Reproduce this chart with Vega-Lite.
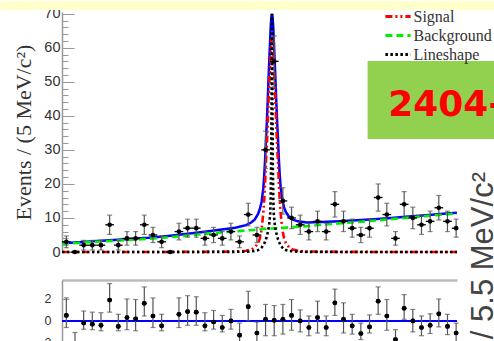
{
"$schema":"https://vega.github.io/schema/vega-lite/v6.json",
"padding":0,
"background":"white",
"config":{"view":{"stroke":null},"font":"Liberation Sans","axis":{"grid":false}},
"datasets":{
"pts":[
{"m":3.7525,"n":3,"lo":1.27,"hi":4.73,"ml":3.75,"mh":3.755},
{"m":3.7575,"n":0,"lo":0,"hi":0,"ml":3.755,"mh":3.76},
{"m":3.7625,"n":2,"lo":0.59,"hi":3.41,"ml":3.76,"mh":3.765},
{"m":3.7675,"n":2,"lo":0.59,"hi":3.41,"ml":3.765,"mh":3.77},
{"m":3.7725,"n":2,"lo":0.59,"hi":3.41,"ml":3.77,"mh":3.775},
{"m":3.7775,"n":8,"lo":5.17,"hi":10.83,"ml":3.775,"mh":3.78},
{"m":3.7825,"n":2,"lo":0.59,"hi":3.41,"ml":3.78,"mh":3.785},
{"m":3.7875,"n":4,"lo":2,"hi":6,"ml":3.785,"mh":3.79},
{"m":3.7925,"n":4,"lo":2,"hi":6,"ml":3.79,"mh":3.795},
{"m":3.7975,"n":8,"lo":5.17,"hi":10.83,"ml":3.795,"mh":3.8},
{"m":3.8025,"n":5,"lo":2.76,"hi":7.24,"ml":3.8,"mh":3.805},
{"m":3.8075,"n":3,"lo":1.27,"hi":4.73,"ml":3.805,"mh":3.81},
{"m":3.8125,"n":0,"lo":0,"hi":0,"ml":3.81,"mh":3.815},
{"m":3.8175,"n":6,"lo":3.55,"hi":8.45,"ml":3.815,"mh":3.82},
{"m":3.8225,"n":7,"lo":4.35,"hi":9.65,"ml":3.82,"mh":3.825},
{"m":3.8275,"n":7,"lo":4.35,"hi":9.65,"ml":3.825,"mh":3.83},
{"m":3.8325,"n":4,"lo":2,"hi":6,"ml":3.83,"mh":3.835},
{"m":3.8375,"n":5,"lo":2.76,"hi":7.24,"ml":3.835,"mh":3.84},
{"m":3.8425,"n":4,"lo":2,"hi":6,"ml":3.84,"mh":3.845},
{"m":3.8475,"n":6,"lo":3.55,"hi":8.45,"ml":3.845,"mh":3.85},
{"m":3.8525,"n":3,"lo":1.27,"hi":4.73,"ml":3.85,"mh":3.855},
{"m":3.8575,"n":11,"lo":7.68,"hi":14.32,"ml":3.855,"mh":3.86},
{"m":3.8625,"n":5,"lo":2.76,"hi":7.24,"ml":3.86,"mh":3.865},
{"m":3.8675,"n":30,"lo":24.52,"hi":35.48,"ml":3.865,"mh":3.87},
{"m":3.8725,"n":56,"lo":48.52,"hi":63.48,"ml":3.87,"mh":3.875},
{"m":3.8775,"n":15,"lo":11.13,"hi":18.87,"ml":3.875,"mh":3.88},
{"m":3.8825,"n":10,"lo":6.84,"hi":13.16,"ml":3.88,"mh":3.885},
{"m":3.8875,"n":8,"lo":5.17,"hi":10.83,"ml":3.885,"mh":3.89},
{"m":3.8925,"n":6,"lo":3.55,"hi":8.45,"ml":3.89,"mh":3.895},
{"m":3.8975,"n":9,"lo":6,"hi":12,"ml":3.895,"mh":3.9},
{"m":3.9025,"n":6,"lo":3.55,"hi":8.45,"ml":3.9,"mh":3.905},
{"m":3.9075,"n":14,"lo":10.26,"hi":17.74,"ml":3.905,"mh":3.91},
{"m":3.9125,"n":9,"lo":6,"hi":12,"ml":3.91,"mh":3.915},
{"m":3.9175,"n":7,"lo":4.35,"hi":9.65,"ml":3.915,"mh":3.92},
{"m":3.9225,"n":5,"lo":2.76,"hi":7.24,"ml":3.92,"mh":3.925},
{"m":3.9275,"n":7,"lo":4.35,"hi":9.65,"ml":3.925,"mh":3.93},
{"m":3.9325,"n":16,"lo":12,"hi":20,"ml":3.93,"mh":3.935},
{"m":3.9375,"n":11,"lo":7.68,"hi":14.32,"ml":3.935,"mh":3.94},
{"m":3.9425,"n":4,"lo":2,"hi":6,"ml":3.94,"mh":3.945},
{"m":3.9475,"n":14,"lo":10.26,"hi":17.74,"ml":3.945,"mh":3.95},
{"m":3.9525,"n":10,"lo":6.84,"hi":13.16,"ml":3.95,"mh":3.955},
{"m":3.9575,"n":8,"lo":5.17,"hi":10.83,"ml":3.955,"mh":3.96},
{"m":3.9625,"n":9,"lo":6,"hi":12,"ml":3.96,"mh":3.965},
{"m":3.9675,"n":13,"lo":9.39,"hi":16.61,"ml":3.965,"mh":3.97},
{"m":3.9725,"n":9,"lo":6,"hi":12,"ml":3.97,"mh":3.975},
{"m":3.9775,"n":7,"lo":4.35,"hi":9.65,"ml":3.975,"mh":3.978}
],
"pull":[
{"m":3.7525,"p":0.5,"lo":-0.6,"hi":2.1},
{"m":3.7575,"p":-2.3,"lo":-3.5,"hi":-1.06},
{"m":3.7625,"p":-0.2,"lo":-0.76,"hi":0.9},
{"m":3.7675,"p":-0.3,"lo":-0.8,"hi":0.8},
{"m":3.7725,"p":-0.4,"lo":-0.9,"hi":0.75},
{"m":3.7775,"p":1.9,"lo":0.8,"hi":3.4},
{"m":3.7825,"p":-0.5,"lo":-0.9,"hi":0.6},
{"m":3.7875,"p":0.3,"lo":-0.8,"hi":2.0},
{"m":3.7925,"p":0.2,"lo":-0.9,"hi":1.95},
{"m":3.7975,"p":1.6,"lo":0.45,"hi":3.1},
{"m":3.8025,"p":0.45,"lo":-0.6,"hi":2.1},
{"m":3.8075,"p":-0.45,"lo":-0.9,"hi":0.6},
{"m":3.8125,"p":-2.9,"lo":-3.6,"hi":-2.2},
{"m":3.8175,"p":0.6,"lo":-0.6,"hi":2.1},
{"m":3.8225,"p":0.85,"lo":-0.4,"hi":2.3},
{"m":3.8275,"p":0.8,"lo":-0.4,"hi":2.2},
{"m":3.8325,"p":-0.45,"lo":-0.9,"hi":0.75},
{"m":3.8375,"p":-0.1,"lo":-0.75,"hi":0.95},
{"m":3.8425,"p":-0.6,"lo":-1.0,"hi":0.5},
{"m":3.8475,"p":0,"lo":-0.75,"hi":1.05},
{"m":3.8525,"p":-1.3,"lo":-2.3,"hi":-0.2},
{"m":3.8575,"p":1.3,"lo":0,"hi":2.7},
{"m":3.8625,"p":-1.1,"lo":-2.1,"hi":-0.1},
{"m":3.8675,"p":0.15,"lo":-1.35,"hi":1.5},
{"m":3.8725,"p":0.05,"lo":-1.35,"hi":1.4},
{"m":3.8775,"p":0.15,"lo":-1.2,"hi":1.5},
{"m":3.8825,"p":0.5,"lo":-0.85,"hi":1.95},
{"m":3.8875,"p":0,"lo":-1.0,"hi":1.0},
{"m":3.8925,"p":-0.6,"lo":-1.35,"hi":0.45},
{"m":3.8975,"p":0.3,"lo":-1.1,"hi":1.8},
{"m":3.9025,"p":-0.6,"lo":-1.35,"hi":0.45},
{"m":3.9075,"p":1.65,"lo":0.5,"hi":2.9},
{"m":3.9125,"p":0.15,"lo":-1.1,"hi":1.65},
{"m":3.9175,"p":-0.45,"lo":-1.2,"hi":0.6},
{"m":3.9225,"p":-1.15,"lo":-1.7,"hi":-0.2},
{"m":3.9275,"p":-0.55,"lo":-1.1,"hi":0.55},
{"m":3.9325,"p":1.8,"lo":0.6,"hi":3.1},
{"m":3.9375,"p":0.45,"lo":-0.85,"hi":1.95},
{"m":3.9425,"p":-1.7,"lo":-2.5,"hi":-0.8},
{"m":3.9475,"p":1.15,"lo":0.15,"hi":2.4},
{"m":3.9525,"p":0,"lo":-1.0,"hi":1.05},
{"m":3.9575,"p":-0.6,"lo":-1.35,"hi":0.45},
{"m":3.9625,"p":-0.4,"lo":-1.15,"hi":0.65},
{"m":3.9675,"p":0.65,"lo":-0.55,"hi":2.0},
{"m":3.9725,"p":-0.5,"lo":-1.25,"hi":0.6},
{"m":3.9775,"p":-1.1,"lo":-2.0,"hi":-0.2}
],
"curves":[
{"m":3.75,"Total":2.58,"Signal":0.01,"Background":2.4,"Lineshape":0.01},
{"m":3.76,"Total":2.9,"Signal":0.01,"Background":2.7,"Lineshape":0.01},
{"m":3.77,"Total":3.22,"Signal":0.01,"Background":3.0,"Lineshape":0.01},
{"m":3.78,"Total":3.55,"Signal":0.01,"Background":3.3,"Lineshape":0.01},
{"m":3.79,"Total":3.89,"Signal":0.01,"Background":3.6,"Lineshape":0.01},
{"m":3.80,"Total":4.19,"Signal":0.02,"Background":3.85,"Lineshape":0.01},
{"m":3.81,"Total":4.65,"Signal":0.02,"Background":4.25,"Lineshape":0.01},
{"m":3.82,"Total":5.18,"Signal":0.03,"Background":4.7,"Lineshape":0.01},
{"m":3.83,"Total":5.78,"Signal":0.04,"Background":5.2,"Lineshape":0.02},
{"m":3.84,"Total":6.45,"Signal":0.06,"Background":5.7,"Lineshape":0.03},
{"m":3.85,"Total":7.15,"Signal":0.14,"Background":6.1,"Lineshape":0.05},
{"m":3.8562,"Total":7.9,"Signal":0.35,"Background":6.3,"Lineshape":0.1},
{"m":3.8592,"Total":8.65,"Signal":0.7,"Background":6.45,"Lineshape":0.2},
{"m":3.8612,"Total":9.5,"Signal":1.3,"Background":6.5,"Lineshape":0.3},
{"m":3.8632,"Total":11.2,"Signal":2.6,"Background":6.6,"Lineshape":0.55},
{"m":3.8642,"Total":12.65,"Signal":4.0,"Background":6.65,"Lineshape":0.8},
{"m":3.8652,"Total":14.7,"Signal":6.5,"Background":6.7,"Lineshape":1.3},
{"m":3.8662,"Total":18.75,"Signal":11.5,"Background":6.75,"Lineshape":2.0},
{"m":3.8667,"Total":22.3,"Signal":15,"Background":6.8,"Lineshape":2.5},
{"m":3.8672,"Total":26.8,"Signal":20,"Background":6.8,"Lineshape":3.0},
{"m":3.8677,"Total":32.8,"Signal":26,"Background":6.8,"Lineshape":3.7},
{"m":3.8682,"Total":37.85,"Signal":31,"Background":6.85,"Lineshape":4.5},
{"m":3.8687,"Total":43.85,"Signal":37,"Background":6.85,"Lineshape":5.6},
{"m":3.8692,"Total":50.85,"Signal":44,"Background":6.85,"Lineshape":6.8},
{"m":3.8697,"Total":56.9,"Signal":50,"Background":6.9,"Lineshape":8.5},
{"m":3.8702,"Total":62.9,"Signal":56,"Background":6.9,"Lineshape":11.5},
{"m":3.87045,"Total":65.9,"Signal":59,"Background":6.9,"Lineshape":16},
{"m":3.8707,"Total":67.9,"Signal":61,"Background":6.9,"Lineshape":25},
{"m":3.87095,"Total":69.4,"Signal":62.5,"Background":6.9,"Lineshape":45},
{"m":3.8712,"Total":69.9,"Signal":63,"Background":6.9,"Lineshape":70},
{"m":3.87145,"Total":69.4,"Signal":62.5,"Background":6.9,"Lineshape":45},
{"m":3.8717,"Total":67.9,"Signal":61,"Background":6.9,"Lineshape":25},
{"m":3.87195,"Total":65.9,"Signal":59,"Background":6.9,"Lineshape":16},
{"m":3.8722,"Total":62.95,"Signal":56,"Background":6.95,"Lineshape":11.5},
{"m":3.8727,"Total":56.95,"Signal":50,"Background":6.95,"Lineshape":8.5},
{"m":3.8732,"Total":50.95,"Signal":44,"Background":6.95,"Lineshape":6.8},
{"m":3.8737,"Total":43.95,"Signal":37,"Background":6.95,"Lineshape":5.6},
{"m":3.8742,"Total":38.0,"Signal":31,"Background":7.0,"Lineshape":4.5},
{"m":3.8747,"Total":33.0,"Signal":26,"Background":7.0,"Lineshape":3.7},
{"m":3.8752,"Total":27.0,"Signal":20,"Background":7.0,"Lineshape":3.0},
{"m":3.8757,"Total":22.5,"Signal":15,"Background":7.0,"Lineshape":2.5},
{"m":3.8762,"Total":19.05,"Signal":11.5,"Background":7.05,"Lineshape":2.0},
{"m":3.8772,"Total":15.1,"Signal":6.5,"Background":7.1,"Lineshape":1.3},
{"m":3.8782,"Total":13.1,"Signal":4.0,"Background":7.1,"Lineshape":0.8},
{"m":3.8792,"Total":11.75,"Signal":2.6,"Background":7.15,"Lineshape":0.55},
{"m":3.8812,"Total":10.2,"Signal":1.3,"Background":7.2,"Lineshape":0.3},
{"m":3.8832,"Total":9.5,"Signal":0.7,"Background":7.3,"Lineshape":0.2},
{"m":3.8862,"Total":9.0,"Signal":0.35,"Background":7.4,"Lineshape":0.1},
{"m":3.8912,"Total":8.7,"Signal":0.15,"Background":7.6,"Lineshape":0.05},
{"m":3.90,"Total":8.8,"Signal":0.07,"Background":8.0,"Lineshape":0.03},
{"m":3.91,"Total":9.0,"Signal":0.04,"Background":8.4,"Lineshape":0.02},
{"m":3.92,"Total":9.3,"Signal":0.03,"Background":8.8,"Lineshape":0.02},
{"m":3.93,"Total":9.62,"Signal":0.02,"Background":9.2,"Lineshape":0.01},
{"m":3.94,"Total":10.0,"Signal":0.02,"Background":9.65,"Lineshape":0.01},
{"m":3.95,"Total":10.4,"Signal":0.01,"Background":10.1,"Lineshape":0.01},
{"m":3.96,"Total":10.81,"Signal":0.01,"Background":10.55,"Lineshape":0.01},
{"m":3.97,"Total":11.23,"Signal":0.01,"Background":11.0,"Lineshape":0.01},
{"m":3.978,"Total":11.56,"Signal":0.01,"Background":11.35,"Lineshape":0.01}
]
},
"spacing":28,
"bounds":"flush",
"resolve":{"legend":{"color":"independent","strokeDash":"independent"}},
"vconcat":[
{
"width":395,"height":240,
"resolve":{"axis":{"y":"independent"}},
"layer":[
{"data":{"values":[{}]},"mark":{"type":"rect","color":"#FFFFCC"},
 "encoding":{"x":{"datum":3.7145,"type":"quantitative","scale":{"domain":[3.75,3.978],"nice":false,"zero":false},"axis":null},"x2":{"datum":4.0},
 "y":{"datum":71.1,"type":"quantitative","scale":{"domain":[0,70.5],"nice":false,"zero":false},"axis":null},"y2":{"datum":73.75}}},
{"data":{"values":[{}]},"mark":{"type":"rect","color":"#92D050"},
 "encoding":{"x":{"datum":3.9264,"type":"quantitative","scale":{"domain":[3.75,3.978],"nice":false,"zero":false},"axis":null},"x2":{"datum":4.0},
 "y":{"datum":33.2,"type":"quantitative","scale":{"domain":[0,70.5],"nice":false,"zero":false},"axis":null},"y2":{"datum":56.1}}},
{"data":{"values":[{}]},"mark":{"type":"text","text":"2404-","font":"DejaVu Sans","fontWeight":"bold","fontSize":36,"color":"#FF0000","align":"left","baseline":"alphabetic"},
 "encoding":{"x":{"datum":3.9383,"type":"quantitative","scale":{"domain":[3.75,3.978],"nice":false,"zero":false},"axis":null},
 "y":{"datum":40.0,"type":"quantitative","scale":{"domain":[0,70.5],"nice":false,"zero":false},"axis":null}}},
{"data":{"values":[{}]},"mark":{"type":"text","text":"/ 5.5 MeV/c²","font":"Liberation Sans","fontSize":31,"color":"#444444","angle":270,"align":"left","baseline":"alphabetic"},
 "encoding":{"x":{"datum":3.99906,"type":"quantitative","scale":{"domain":[3.75,3.978],"nice":false,"zero":false},"axis":null},
 "y":{"datum":-25.6,"type":"quantitative","scale":{"domain":[0,70.5],"nice":false,"zero":false},"axis":null}}},
{"data":{"name":"curves"},"mark":{"type":"line","color":"#0000FF","strokeWidth":2.5},
 "encoding":{"x":{"field":"m","type":"quantitative","scale":{"domain":[3.75,3.978],"nice":false,"zero":false},"axis":null},
 "y":{"field":"Total","type":"quantitative","scale":{"domain":[0,70.5],"nice":false,"zero":false},
  "axis":{"orient":"left","values":[2,4,6,8,12,14,16,18,22,24,26,28,32,34,36,38,42,44,46,48,52,54,56,58,62,64,66,68],"labels":false,"domain":false,"tickSize":-6,"tickColor":"#999999","tickWidth":1,"title":null,"grid":false}}}},
{"data":{"name":"curves"},"transform":[{"fold":["Signal","Background","Lineshape"],"as":["comp","v"]}],
 "mark":{"type":"line","strokeWidth":2.6},
 "encoding":{"x":{"field":"m","type":"quantitative","scale":{"domain":[3.75,3.978],"nice":false,"zero":false},"axis":null},
 "y":{"field":"v","type":"quantitative","scale":{"domain":[0,70.5],"nice":false,"zero":false},"axis":null},
 "color":{"field":"comp","type":"nominal","scale":{"domain":["Signal","Background","Lineshape"],"range":["#FF0000","#00EE00","#000000"]},
   "legend":{"title":null,"orient":"none","legendX":325.5,"legendY":-6,"symbolType":"M-1.4,0H1.4","symbolSize":324,"symbolStrokeWidth":3,"labelFont":"Liberation Serif","labelFontSize":16,"labelColor":"#333333","rowPadding":-2.5,"labelOffset":5,"padding":0}},
 "strokeDash":{"field":"comp","type":"nominal","scale":{"domain":["Signal","Background","Lineshape"],"range":[[7,3,2,3,2,3],[7,4],[2.5,2.5]]},
   "legend":{"title":null,"orient":"none","legendX":325.5,"legendY":-6,"symbolType":"M-1.4,0H1.4","symbolSize":324,"symbolStrokeWidth":3,"labelFont":"Liberation Serif","labelFontSize":16,"labelColor":"#333333","rowPadding":-2.5,"labelOffset":5,"padding":0}}}},
{"data":{"name":"pts"},"transform":[{"filter":"datum.n > 0"}],
 "mark":{"type":"errorbar","ticks":{"size":5},"color":"#555555","thickness":1.2},
 "encoding":{"x":{"field":"m","type":"quantitative","scale":{"domain":[3.75,3.978],"nice":false,"zero":false},"axis":null},
 "y":{"field":"lo","type":"quantitative","scale":{"domain":[0,70.5],"nice":false,"zero":false},"axis":null},"y2":{"field":"hi"}}},
{"data":{"name":"pts"},"mark":{"type":"rule","color":"#000000","strokeWidth":1.3},
 "encoding":{"x":{"field":"ml","type":"quantitative","scale":{"domain":[3.75,3.978],"nice":false,"zero":false},"axis":null},"x2":{"field":"mh"},
 "y":{"field":"n","type":"quantitative","scale":{"domain":[0,70.5],"nice":false,"zero":false},"axis":null}}},
{"data":{"name":"pts"},"mark":{"type":"point","shape":"circle","filled":true,"color":"#000000","size":22,"opacity":1},
 "encoding":{"x":{"field":"m","type":"quantitative","scale":{"domain":[3.75,3.978],"nice":false,"zero":false},
   "axis":{"orient":"bottom","values":[3.75,3.8,3.85,3.9,3.95],"format":"~g","ticks":false,"domainColor":"#bbbbbb","domainWidth":3,"labelPadding":8,"labelFontSize":15,"labelColor":"#333333","labelFlush":false,"labelOverlap":false,"title":null,"grid":false}},
 "y":{"field":"n","type":"quantitative","scale":{"domain":[0,70.5],"nice":false,"zero":false},
   "axis":{"orient":"left","values":[0,10,20,30,40,50,60,70],"tickSize":-12,"tickColor":"#999999","domainColor":"#999999","domainWidth":1.5,"labelPadding":14,"labelFontSize":14.5,"labelColor":"#333333","labelFont":"Liberation Sans","title":"Events / (5 MeV/c²)","titleFont":"Liberation Serif","titleFontSize":22,"titleFontWeight":"normal","titleColor":"#333333","titlePadding":8,"grid":false}}}}
]
},
{
"width":395,"height":81.5,
"resolve":{"axis":{"x":"independent","y":"independent"}},
"layer":[
{"data":{"name":"pull"},"mark":{"type":"point","shape":"circle","filled":true,"color":"#000000","size":22,"opacity":1},
 "encoding":{"x":{"field":"m","type":"quantitative","scale":{"domain":[3.75,3.978],"nice":false,"zero":false},
   "axis":{"orient":"top","labels":false,"ticks":false,"domainColor":"#bbbbbb","domainWidth":2.5,"title":null,"grid":false}},
 "y":{"field":"p","type":"quantitative","scale":{"domain":[-3.7,3.73],"nice":false,"zero":false},
   "axis":{"orient":"left","values":[-2,0,2],"tickSize":-7,"tickColor":"#999999","domainColor":"#999999","domainWidth":1.5,"labelPadding":18,"labelFontSize":12.5,"labelColor":"#333333","title":null,"grid":false}}}},
{"data":{"values":[{}]},"mark":{"type":"rule","color":"#0000FF","strokeWidth":2},
 "encoding":{"y":{"datum":0,"type":"quantitative","scale":{"domain":[-3.7,3.73],"nice":false,"zero":false},"axis":null}}},
{"data":{"name":"pull"},"mark":{"type":"errorbar","ticks":{"size":5},"color":"#555555","thickness":1.2},
 "encoding":{"x":{"field":"m","type":"quantitative","scale":{"domain":[3.75,3.978],"nice":false,"zero":false},"axis":null},
 "y":{"field":"lo","type":"quantitative","scale":{"domain":[-3.7,3.73],"nice":false,"zero":false},"axis":null},"y2":{"field":"hi"}}},
{"data":{"name":"pull"},"mark":{"type":"point","shape":"circle","filled":true,"color":"#000000","size":22,"opacity":1},
 "encoding":{"x":{"field":"m","type":"quantitative","scale":{"domain":[3.75,3.978],"nice":false,"zero":false},"axis":null},
 "y":{"field":"p","type":"quantitative","scale":{"domain":[-3.7,3.73],"nice":false,"zero":false},"axis":null}}}
]
}
]
}
